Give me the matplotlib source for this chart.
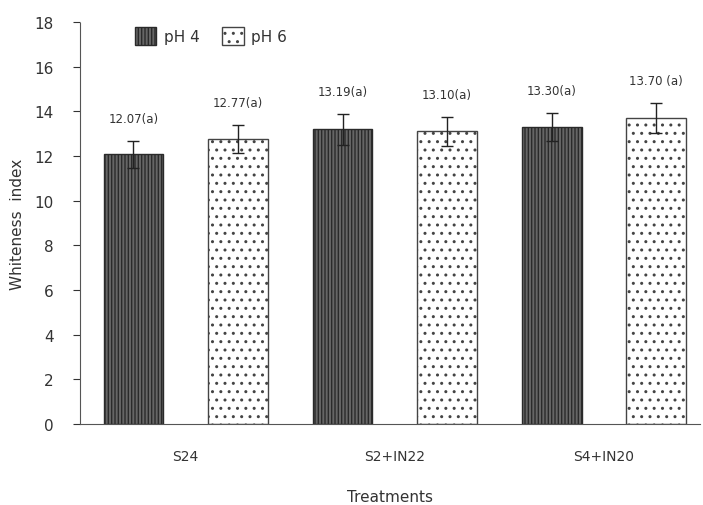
import matplotlib
matplotlib.use("Agg")
import matplotlib.pyplot as plt
import numpy as np
from matplotlib.patches import Patch

groups = ["S24", "S2+IN22", "S4+IN20"]
series = ["pH 4", "pH 6"]
values = [12.07, 12.77, 13.19, 13.10, 13.30, 13.70]
errors = [0.60, 0.63, 0.68, 0.64, 0.63, 0.66]
labels = ["12.07(a)", "12.77(a)", "13.19(a)", "13.10(a)", "13.30(a)", "13.70 (a)"]
yticks = [0, 2, 4, 6, 8, 10, 12, 14, 16, 18]

txt = "#333333"
fig = plt.figure(figsize=(7.03, 5.06), dpi=100)
ax = fig.add_axes([0.114, 0.160, 0.882, 0.7945])

x = np.arange(len(values))
for i, (v, e) in enumerate(zip(values, errors)):
    if i % 2 == 0:
        ax.bar(x[i], v, width=0.57, facecolor="#666666", edgecolor="#2a2a2a",
               hatch="|||||", linewidth=1.0, zorder=2)
    else:
        ax.bar(x[i], v, width=0.57, facecolor="white", edgecolor="#444444",
               hatch="..", linewidth=1.0, zorder=2)
    ax.errorbar(x[i], v, yerr=e, fmt="none", ecolor="#222222", elinewidth=1.0,
                capsize=4, capthick=1.0, zorder=3)
    ax.text(x[i], v + e + 1.0, labels[i], ha="center", va="center",
            fontsize=8.5, color=txt)

ax.set_xlim(-0.51, 5.42)
ax.set_ylim(0, 18)
ax.set_yticks(yticks)
ax.set_xticks([0.5, 2.5, 4.5])
ax.set_xticklabels(groups)
ax.tick_params(axis="x", length=0, pad=18, labelsize=10, colors=txt)
ax.tick_params(axis="y", length=5, pad=14, labelsize=11, colors=txt, direction="out")
for s in ["top", "right"]:
    ax.spines[s].set_visible(False)
ax.spines["left"].set_color("#555555")
ax.spines["bottom"].set_color("#555555")
ax.spines["left"].set_linestyle((0, (1, 1)))
ax.set_xlabel("Treatments", fontsize=11, color=txt, labelpad=19)
ax.set_ylabel("Whiteness  index", fontsize=11, color=txt, labelpad=7)

handles = [Patch(facecolor="#666666", edgecolor="#2a2a2a", hatch="|||||", label=series[0]),
           Patch(facecolor="white", edgecolor="#444444", hatch="..", label=series[1])]
fig.legend(handles=handles, loc="center left", bbox_to_anchor=(0.172, 0.927),
           ncol=2, frameon=False, fontsize=11, handlelength=1.4, handleheight=1.4,
           handletextpad=0.5, columnspacing=1.5, labelcolor=txt)

fig.savefig("out.png", dpi=100, facecolor="white")
